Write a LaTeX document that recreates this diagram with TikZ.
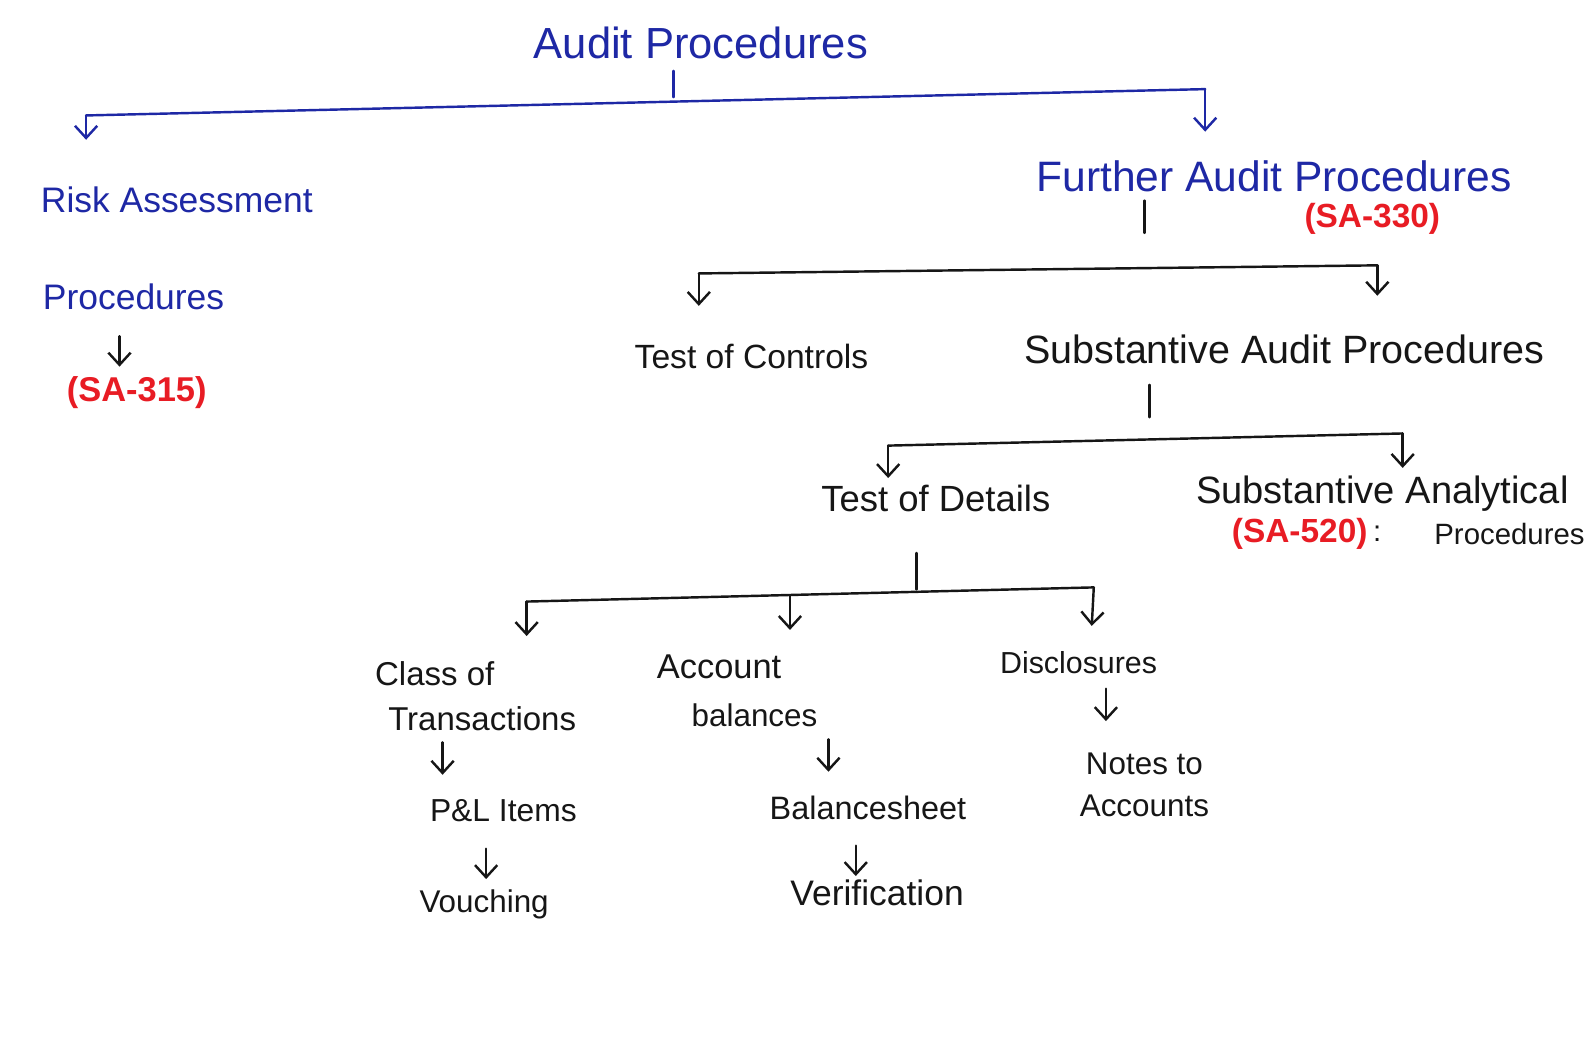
\documentclass[tikz,border=0pt]{standalone}
\usepackage{fontspec}
\setmainfont{Liberation Sans}
\usetikzlibrary{arrows.meta}
\definecolor{inkblue}{RGB}{30,40,165}
\definecolor{inkred}{RGB}{232,28,36}
\definecolor{inkblack}{RGB}{22,22,22}
\newcommand{\fs}[1]{\fontsize{#1}{1.2\dimexpr #1pt\relax}\selectfont}
\tikzset{
  lbl/.style={inner sep=0pt, text=inkblack},
  bluelbl/.style={inner sep=0pt, text=inkblue},
  redlbl/.style={inner sep=0pt, text=inkred, font=\bfseries},
  wire/.style={draw=inkblack, line width=1.2pt, line cap=round, line join=round},
  bluewire/.style={wire, draw=inkblue},
  arr/.style={-{Straight Barb[length=6pt,width=11pt,line width=1.2pt]}},
}
\begin{document}
\begin{tikzpicture}[x=0.5pt, y=-0.5pt]
\fill[white] (0,0) rectangle (1568,1026);
\useasboundingbox (0,0) rectangle (1568,1026);

% ---- level 0
\node[bluelbl, font=\fs{21.5}] (ap) at (692,42) {Audit Procedures};
\coordinate (t0a) at (665,70); \coordinate (t0b) at (665,96);
\draw[bluewire] (t0a) -- (t0b);
\coordinate (b0L) at (85,114); \coordinate (b0R) at (1190,88);
\coordinate (a0L) at (85,138); \coordinate (a0R) at (1190,130);
\draw[bluewire] (b0L) -- (b0R);
\draw[bluewire, arr] (b0L) -- (a0L);
\draw[bluewire, arr] (b0R) -- (a0R);

% ---- risk assessment branch
\node[bluelbl, font=\fs{17.5}, anchor=west, align=left] (rap) at (40,245)
  {Risk Assessment\\[27pt]\hspace*{1pt}Procedures};
\coordinate (r1) at (118,332); \coordinate (r2) at (118,362);
\draw[wire, arr] (r1) -- (r2);
\node[redlbl, font=\fs{17}\bfseries] (sa315) at (135,388) {(SA-315)};

% ---- further audit procedures branch
\node[bluelbl, font=\fs{21}] (fap) at (1258,174) {Further Audit Procedures};
\node[redlbl, font=\fs{16.5}\bfseries] (sa330) at (1355,216) {(SA-330)};
\coordinate (t1a) at (1130,198); \coordinate (t1b) at (1130,230);
\draw[wire] (t1a) -- (t1b);
\coordinate (b1L) at (690,270); \coordinate (b1R) at (1360,262);
\coordinate (a1L) at (690,302); \coordinate (a1R) at (1360,292);
\draw[wire] (b1L) -- (b1R);
\draw[wire, arr] (b1L) -- (a1L);
\draw[wire, arr] (b1R) -- (a1R);

\node[lbl, font=\fs{16.6}] (toc) at (742,352) {Test of Controls};
\node[lbl, font=\fs{19.5}] (sap) at (1268,345) {Substantive Audit Procedures};

% ---- substantive audit procedures
\coordinate (t2a) at (1135,380); \coordinate (t2b) at (1135,412);
\draw[wire] (t2a) -- (t2b);
\coordinate (b2L) at (877,440); \coordinate (b2R) at (1385,428);
\coordinate (a2L) at (877,472); \coordinate (a2R) at (1385,462);
\draw[wire] (b2L) -- (b2R);
\draw[wire, arr] (b2L) -- (a2L);
\draw[wire, arr] (b2R) -- (a2R);

\node[lbl, font=\fs{18}] (tod) at (924,492) {Test of Details};
\node[lbl, font=\fs{18.8}] (sanp) at (1365,487) {Substantive Analytical};
\node[redlbl, font=\fs{16.5}\bfseries, anchor=west] (sa520) at (1216,527) {(SA-520)};
\node[lbl, font=\fs{14.5}, anchor=west] (colon) at (sa520.east) {\,:};
\node[lbl, font=\fs{14.5}, anchor=east] (sanp2) at (1565,527) {Procedures};

% ---- test of details
\coordinate (t3a) at (905,546); \coordinate (t3b) at (905,582);
\draw[wire] (t3a) -- (t3b);
\coordinate (b3L) at (520,594); \coordinate (b3M) at (780,589); \coordinate (b3R) at (1080,580);
\coordinate (a3L) at (520,628); \coordinate (a3M) at (780,622); \coordinate (a3R) at (1078,618);
\draw[wire] (b3L) -- (b3R);
\draw[wire, arr] (b3L) -- (a3L);
\draw[wire, arr] (b3M) -- (a3M);
\draw[wire, arr] (b3R) -- (a3R);

\node[lbl, font=\fs{16.3}, anchor=west] (cls) at (370,665) {Class of};
\node[lbl, font=\fs{16.3}, anchor=west] (trn) at (383,710) {Transactions};
\node[lbl, font=\fs{17}] (acc) at (710,658) {Account};
\node[lbl, font=\fs{15.5}] (bal) at (745,706) {balances};
\node[lbl, font=\fs{15}] (dis) at (1065,654) {Disclosures};

% ---- leaves
\coordinate (c1) at (437,733); \coordinate (c2) at (437,765);
\draw[wire, arr] (c1) -- (c2);
\coordinate (d1) at (818,730); \coordinate (d2) at (818,762);
\draw[wire, arr] (d1) -- (d2);
\coordinate (e1) at (1092,680); \coordinate (e2) at (1092,712);
\draw[wire, arr] (e1) -- (e2);

\node[lbl, font=\fs{15.7}] (pl) at (497,800) {P\&L Items};
\node[lbl, font=\fs{16}] (bs) at (857,798) {Balancesheet};
\node[lbl, font=\fs{15.5}, align=center] (nt) at (1130,775) {Notes to\\[2pt]Accounts};

\coordinate (f1) at (480,838); \coordinate (f2) at (480,868);
\draw[wire, arr] (f1) -- (f2);
\coordinate (g1) at (845,835); \coordinate (g2) at (845,865);
\draw[wire, arr] (g1) -- (g2);

\node[lbl, font=\fs{15.5}] (vch) at (478,893) {Vouching};
\node[lbl, font=\fs{17.5}] (ver) at (866,882) {Verification};
\end{tikzpicture}
\end{document}
